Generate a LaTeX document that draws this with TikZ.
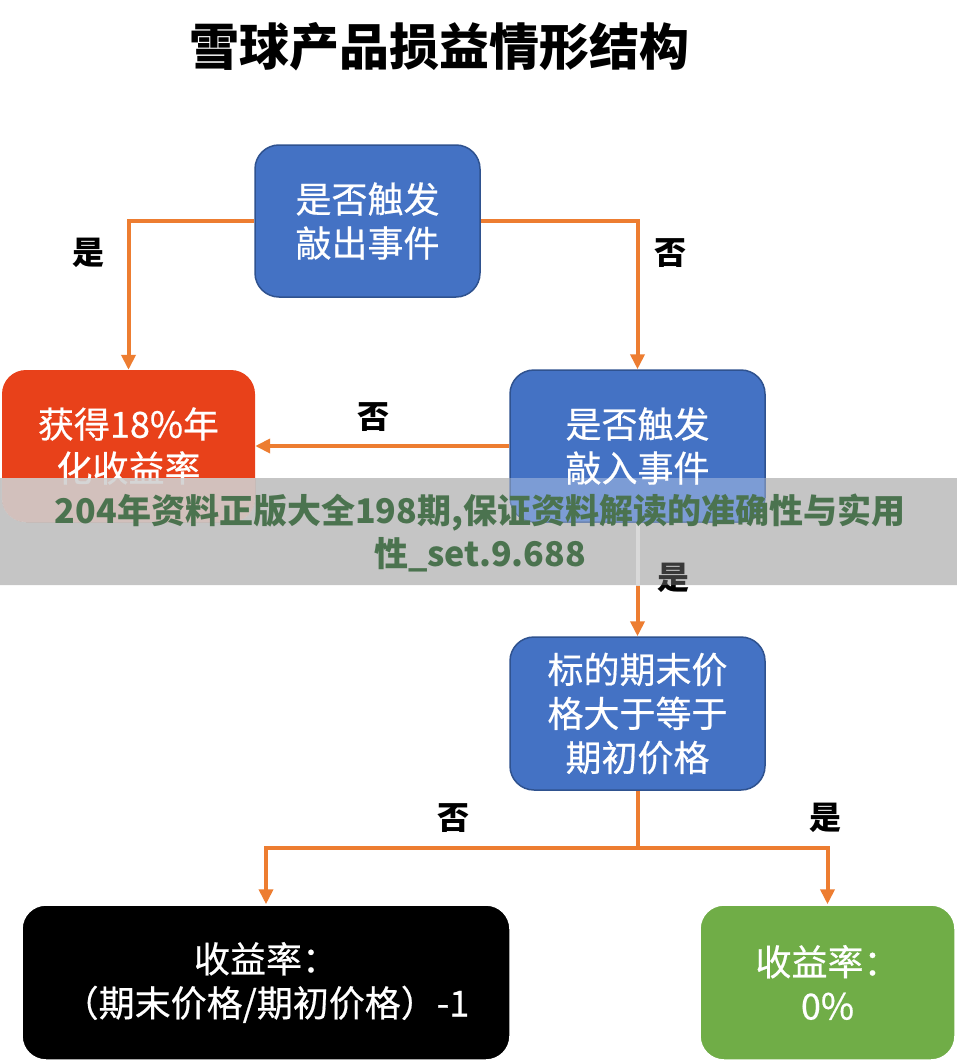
\documentclass[tikz,border=0pt]{standalone}
\usepackage{fontspec}
\setmainfont{Noto Sans CJK SC}
\newfontfamily\boxfont{Noto Sans CJK SC}[FakeBold=0.5]
\usetikzlibrary{arrows.meta}
\definecolor{boxblue}{HTML}{4472C4}
\definecolor{boxblueline}{HTML}{2F528F}
\definecolor{boxred}{HTML}{E8411A}
\definecolor{boxgreen}{HTML}{70AD47}
\definecolor{linkorange}{HTML}{ED7D31}
\definecolor{wmgreen}{HTML}{4B734F}
\tikzset{
  box/.style={rounded corners=24pt, inner sep=0pt, align=center, text=white,
    font=\boxfont\fontsize{36}{44}\selectfont},
  bluebox/.style={box, fill=boxblue, draw=boxblueline, line width=1.5pt},
  link/.style={draw=linkorange, line width=4pt, -{Triangle[length=15pt,width=14pt]}},
  plain link/.style={draw=linkorange, line width=4pt},
  lbl/.style={font=\fontsize{32}{36}\selectfont\bfseries, text=black, inner sep=0pt},
  band/.style={gray, opacity=0.45},
}
\begin{document}
\begin{tikzpicture}[x=1pt,y=-1pt]
\useasboundingbox (0,0) rectangle (957,1062);
\fill[white] (0,0) rectangle (957,1062);

\node[font=\fontsize{50}{56}\selectfont\bfseries, inner sep=0pt] (title) at (439,47) {雪球产品损益情形结构};

\node[bluebox, minimum width=225pt, minimum height=152pt] (knockout) at (367.5,221) {是否触发\\敲出事件};
\node[box, fill=boxred, minimum width=253pt, minimum height=152pt] (gain) at (128.5,446) {获得18\%年\\化收益率};
\node[bluebox, minimum width=255pt, minimum height=152pt] (knockin) at (637.5,446) {是否触发\\敲入事件};
\node[bluebox, minimum width=255pt, minimum height=153pt] (compare) at (637.5,713.5) {标的期末价\\格大于等于\\期初价格};
\node[box, fill=black, draw=white, line width=1.5pt, minimum width=488pt, minimum height=155pt] (loss) at (266,982.5) {收益率：\\（期末价格/期初价格）-1};
\node[box, fill=boxgreen, draw=white, line width=1.5pt, minimum width=255pt, minimum height=155pt] (zero) at (827.5,982.5) {收益率：\\0\%};

\coordinate (split) at (637.5,848);

\draw[link] (knockout.west) -| (gain.north);
\draw[link] (knockout.east) -| (knockin.north);
\draw[link] (knockin.west) -- (gain.east);
\draw[link] (knockin.south) -- (compare.north);
\draw[plain link] (compare.south) -- (split);
\draw[link] (split) -| (loss.north);
\draw[link] (split) -| (zero.north);

\node[lbl] (yes1) at (88,253) {是};
\node[lbl] (no1) at (670,253) {否};
\node[lbl] (no2) at (373,417) {否};
\node[lbl] (yes2) at (673,578) {是};
\node[lbl] (no3) at (453,818) {否};
\node[lbl] (yes3) at (825,818) {是};

% watermark band
\begin{scope}
  \clip (0,478) rectangle (957,585);
  \fill[band, even odd rule] (0,478) rectangle (957,585)
     [rounded corners=24pt] (knockin.north west) rectangle (knockin.south east);
  \fill[white, opacity=0.3, rounded corners=24pt] (knockin.north west) rectangle (knockin.south east);
  \fill[gray!30, opacity=0.8, rounded corners=24pt] (gain.north west) rectangle (gain.south east);
  \draw[gray!30, line width=4pt] (knockin.south) -- (compare.north);
\end{scope}
\node[font=\fontsize{34}{43}\selectfont\bfseries, text=wmgreen, align=center, inner sep=0pt] (watermark) at (480,533)
  {204年资料正版大全198期,保证资料解读的准确性与实用\\性\_set.9.688};
\end{tikzpicture}
\end{document}
